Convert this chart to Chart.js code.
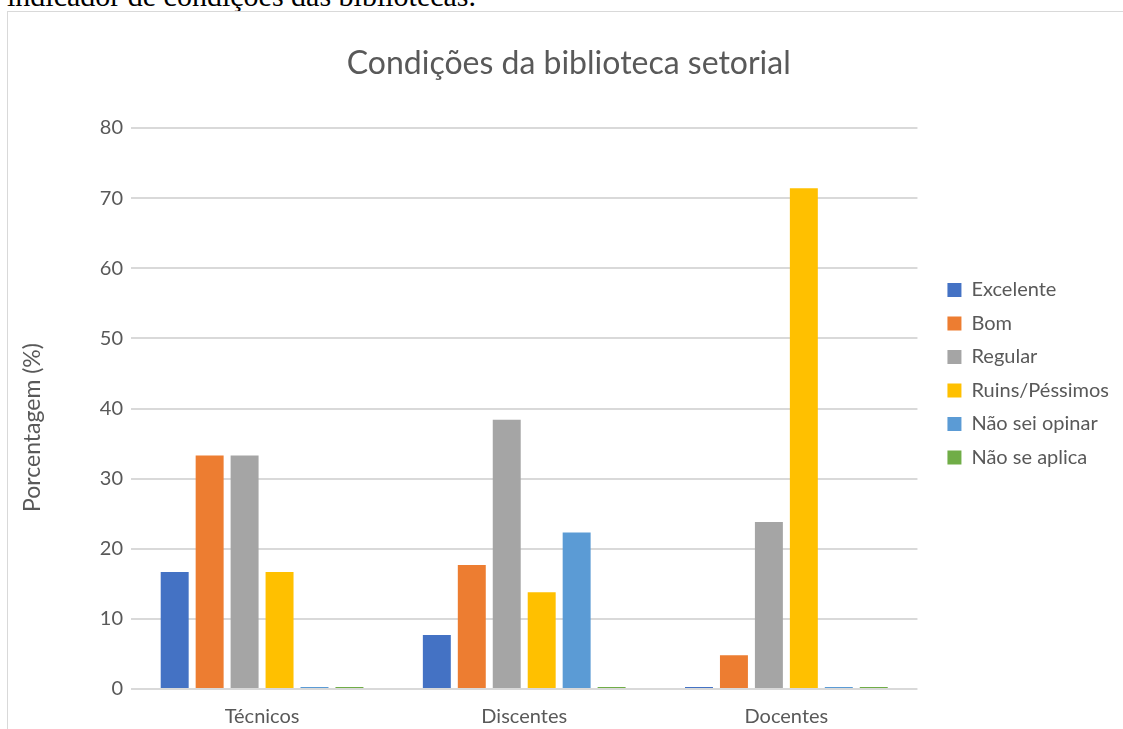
<!DOCTYPE html>
<html lang="pt">
<head>
<meta charset="utf-8">
<title>Condições da biblioteca setorial</title>
<script src="https://cdn.jsdelivr.net/npm/chart.js@4/dist/chart.umd.min.js"></script>
<style>
  html, body { margin: 0; padding: 0; background: #ffffff; overflow: hidden; width: 1123px; height: 729px; }
  #leadText {
    position: absolute; left: 7px; top: -19px; margin: 0;
    font-family: "Liberation Serif", "Times New Roman", serif;
    font-size: 30px; line-height: 30px; color: #000000; white-space: nowrap;
  }
  #frame {
    position: absolute; left: 7px; top: 11px; width: 1200px; height: 800px;
    border: 1px solid #d9d9d9; box-sizing: border-box;
  }
  #chart { position: absolute; left: 0; top: 0; }
</style>
</head>
<body>
<p id="leadText">indicador de condições das bibliotecas.</p>
<div id="frame"><canvas id="chart" width="1128" height="730"></canvas></div>
<script>
// Respondent groups on the category axis
const categories = ['Técnicos', 'Discentes', 'Docentes'];

// Share of answers per group (%)
const excelente     = [16.7, 7.7, 0];
const bom           = [33.3, 17.7, 4.8];
const regular       = [33.3, 38.4, 23.8];
const ruinsPessimos = [16.7, 13.8, 71.4];
const naoSeiOpinar  = [0, 22.3, 0];
const naoSeAplica   = [0, 0, 0];

// Value axis
const yMin = 0;
const yMax = 80;
const yStep = 10;

const seriesNames = ['Excelente', 'Bom', 'Regular', 'Ruins/Péssimos', 'Não sei opinar', 'Não se aplica'];
const seriesValues = [excelente, bom, regular, ruinsPessimos, naoSeiOpinar, naoSeAplica];
const seriesColors = ['#4472C4', '#ED7D31', '#A5A5A5', '#FFC000', '#5B9BD5', '#70AD47'];

const textColor = '#595959';
const gridColor = '#d9d9d9';
const uiFont = 'Lato, "Open Sans", "DejaVu Sans", sans-serif';

// Layout of the canvas: plot box edges and the legend geometry
const canvasW = 1128;
const plotLeft = 123;
const plotRight = 907;
const titleCenterX = 560.75;
const labelSize = 20;
const legendPad = 13.5;
const legendBox = 14;
const legendGap = 16.5;

// Legend width follows Chart.js: padding + box + half font + widest text + 10
const measureCtx = document.createElement('canvas').getContext('2d');
measureCtx.font = labelSize + 'px ' + uiFont;
const widestLabel = Math.max(...seriesNames.map(n => measureCtx.measureText(n).width));
const legendW = legendPad + legendBox + labelSize / 2 + widestLabel + 10;
const padRight = canvasW - plotRight - legendGap - legendW;
const padLeft = 2 * titleCenterX - (canvasW - padRight);
const yAxisW = plotLeft - padLeft;

// Rotated title for the value axis
const valueAxisTitle = {
  id: 'valueAxisTitle',
  afterDraw(chart) {
    const ctx = chart.ctx;
    const area = chart.chartArea;
    ctx.save();
    ctx.translate(25, (area.top + area.bottom) / 2 + 19);
    ctx.rotate(-Math.PI / 2);
    ctx.fillStyle = textColor;
    ctx.font = '23px ' + uiFont;
    ctx.textAlign = 'center';
    ctx.textBaseline = 'middle';
    ctx.fillText('Porcentagem (%)', 0, 0);
    ctx.restore();
  }
};

new Chart(document.getElementById('chart'), {
  type: 'bar',
  data: {
    labels: categories,
    datasets: seriesNames.map((name, i) => ({
      label: name,
      data: seriesValues[i],
      backgroundColor: seriesColors[i],
      borderWidth: 0,
      minBarLength: 2,
      categoryPercentage: 0.8,
      barPercentage: 0.8
    }))
  },
  options: {
    responsive: false,
    animation: false,
    layout: { padding: { left: padLeft, right: padRight, top: 0, bottom: 6.5 } },
    plugins: {
      title: {
        display: true,
        text: 'Condições da biblioteca setorial',
        color: textColor,
        font: { family: uiFont, size: 32, weight: 'normal' },
        padding: { top: 32.8, bottom: 44.8 }
      },
      legend: {
        position: 'right',
        align: 'center',
        labels: {
          color: textColor,
          font: { family: uiFont, size: labelSize },
          boxWidth: legendBox,
          boxHeight: legendBox,
          padding: legendPad
        }
      },
      tooltip: { enabled: false }
    },
    scales: {
      x: {
        grid: { display: false },
        border: { display: false },
        ticks: { color: textColor, font: { family: uiFont, size: labelSize }, padding: 8 },
        afterFit(scale) { scale.height = 46.5; }
      },
      y: {
        min: yMin,
        max: yMax,
        ticks: { stepSize: yStep, color: textColor, font: { family: uiFont, size: labelSize }, padding: 8 },
        grid: { color: gridColor, lineWidth: 2, drawTicks: false },
        border: { display: false },
        afterFit(scale) { scale.width = yAxisW; }
      },
      gap: {
        type: 'linear',
        position: 'right',
        grid: { display: false },
        ticks: { display: false },
        border: { display: false },
        afterFit(scale) { scale.width = legendGap; }
      }
    }
  },
  plugins: [valueAxisTitle]
});
</script>
</body>
</html>
